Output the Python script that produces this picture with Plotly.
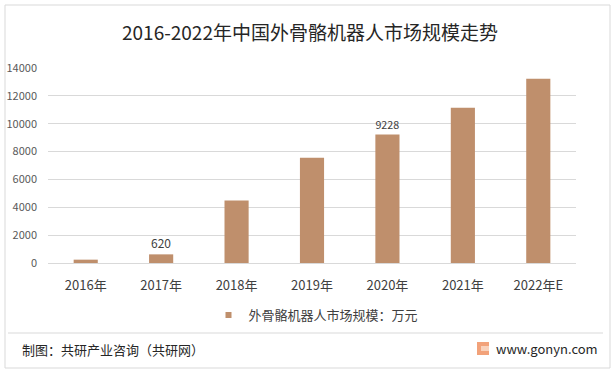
import plotly.graph_objects as go

categories = ["2016年", "2017年", "2018年", "2019年", "2020年", "2021年", "2022年E"]
market_size = [240, 620, 4480, 7560, 9228, 11150, 13230]
shown_labels = ["", "620", "", "", "9228", "", ""]
y_ticks = [0, 2000, 4000, 6000, 8000, 10000, 12000, 14000]

W, H = 615, 375
L, R, T, B = 48, 39, 68, 112
PW, PH = W - L - R, H - T - B
FONT = "Noto Sans CJK SC, Noto Sans, sans-serif"
BAR = "#BF8F6C"


def px(x):
    return (x - L) / PW


def py(y):
    return (H - B - y) / PH


fig = go.Figure()
fig.add_trace(go.Bar(
    x=categories, y=market_size, marker=dict(color=BAR, line=dict(width=0)),
    text=shown_labels, textposition="outside", cliponaxis=False,
    textfont=dict(size=12, color="#404040", family=FONT),
    showlegend=False, hoverinfo="x+y",
))
fig.add_trace(go.Scatter(
    x=[None], y=[None], mode="markers", name="外骨骼机器人市场规模：万元",
    marker=dict(symbol="square", size=6, color=BAR), showlegend=True,
))

fig.update_layout(
    width=W, height=H, margin=dict(l=L, r=R, t=T, b=B, pad=0, autoexpand=False),
    paper_bgcolor="white", plot_bgcolor="white",
    font=dict(family=FONT, color="#404040"),
    bargap=0.68,
    legend=dict(orientation="h", x=px(316), xanchor="center", y=py(315), yanchor="middle",
                font=dict(size=13, color="#404040", family=FONT),
                itemwidth=30, bgcolor="rgba(0,0,0,0)", tracegroupgap=0),
    xaxis=dict(showgrid=False, showline=False, ticks="", tickfont=dict(size=13, color="#404040"),
               ticklabelstandoff=13, fixedrange=True, automargin=False),
    yaxis=dict(range=[0, 14000], tickvals=y_ticks, ticktext=[str(v) for v in y_ticks],
               showgrid=True, gridcolor="#D9D9D9", gridwidth=1,
               zeroline=True, zerolinecolor="#D9D9D9", zerolinewidth=1, showline=False,
               ticks="", tickfont=dict(size=11, color="#595959"), ticklabelstandoff=10,
               fixedrange=True, automargin=False),
    showlegend=True,
)

shapes = [
    dict(type="rect", xref="paper", yref="paper", x0=px(5), x1=px(610), y0=py(368), y1=py(5),
         line=dict(color="#D9D9D9", width=1), fillcolor="rgba(0,0,0,0)", layer="below"),
    dict(type="line", xref="paper", yref="paper", x0=px(8), x1=px(603), y0=py(333), y1=py(333),
         line=dict(color="#D9D9D9", width=1)),
    dict(type="rect", xref="paper", yref="paper", x0=px(477), x1=px(489), y0=py(355), y1=py(342),
         line=dict(width=0), fillcolor="#F2A27A"),
    dict(type="rect", xref="paper", yref="paper", x0=px(481), x1=px(489), y0=py(351), y1=py(346),
         line=dict(width=0), fillcolor="#F9D2BC"),
]
fig.update_layout(shapes=shapes)

fig.add_annotation(text="2016-2022年中国外骨骼机器人市场规模走势", xref="paper", yref="paper",
                   x=px(310), y=py(31), xanchor="center", yanchor="middle", showarrow=False,
                   font=dict(size=19, color="#262626", family=FONT))
fig.add_annotation(text="制图：共研产业咨询（共研网）", xref="paper", yref="paper",
                   x=px(20), y=py(349), xanchor="left", yanchor="middle", showarrow=False,
                   font=dict(size=13, color="#262626", family=FONT))
fig.add_annotation(text="www.gonyn.com", xref="paper", yref="paper",
                   x=px(494), y=py(348), xanchor="left", yanchor="middle", showarrow=False,
                   font=dict(size=13, color="#262626", family=FONT))

fig.write_html("out.html", config={"displayModeBar": False},
               post_script="document.body.style.margin='0px';document.body.style.padding='0px';")
